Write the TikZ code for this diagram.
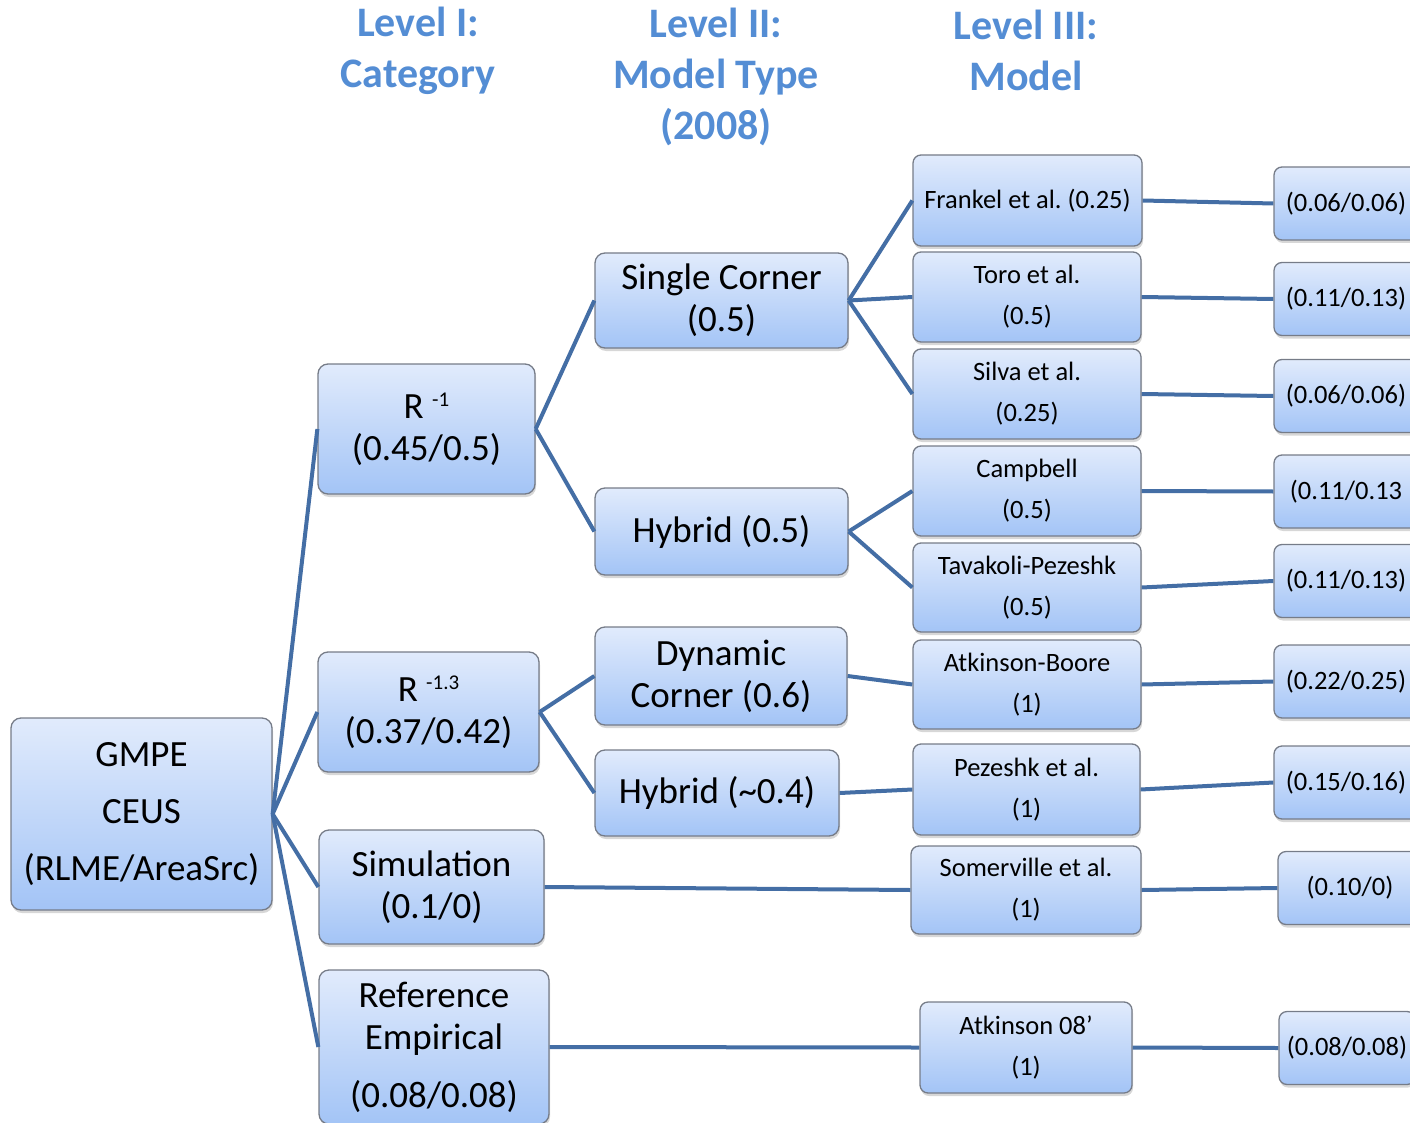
\documentclass[tikz,border=0pt]{standalone}
\usepackage{fontspec}
\setmainfont{Carlito}
\frenchspacing
\usepackage{xcolor}
\definecolor{boxtop}{RGB}{225,235,252}
\definecolor{boxbot}{RGB}{163,196,246}
\definecolor{boxline}{RGB}{118,124,136}
\definecolor{linkblue}{RGB}{68,110,165}
\definecolor{headblue}{RGB}{84,141,212}
\usepackage{tikz}
\usetikzlibrary{shadows}
\tikzstyle{gbox} = [rectangle,rounded corners=10pt,draw=boxline,line width=1.3pt,top color=boxtop,bottom color=boxbot,drop shadow={shadow xshift=1pt,shadow yshift=-3pt,fill=black!45,opacity=0.35},align=center,inner sep=0pt,font=\fontsize{37}{42}\selectfont]
\tikzstyle{mbox} = [gbox,rounded corners=8pt,font=\fontsize{26.5}{41}\selectfont]
\tikzstyle{wbox} = [mbox,minimum width=144pt,minimum height=73pt]
\tikzstyle{head} = [font=\fontsize{42}{51}\selectfont\bfseries,text=headblue,align=center]
\tikzstyle{link} = [draw=linkblue,line width=4pt]

\begin{document}
\begin{tikzpicture}[x=1pt,y=-1pt]
    \path[use as bounding box] (0,0) rectangle (1410,1123);
    \clip (0,0) rectangle (1410,1123);

      % column headings
      \node[head] (lvone)   at (418,51)  {Level I:\\Category};
      \node[head] (lvtwo)   at (716,77)  {Level II:\\Model Type\\(2008)};
      \node[head] (lvthree) at (1026,50) {Level III:\\Model};

      % root and level I
      \node[gbox,minimum width=261pt,minimum height=192pt,font=\fontsize{37}{57}\selectfont] (gmpe) at (141.5,814) {GMPE\\CEUS\\(RLME/AreaSrc)};
      \node[gbox,minimum width=217pt,minimum height=130pt] (rone)  at (426.5,429) {R \raisebox{12pt}{\fontsize{21}{21}\selectfont -1}\\(0.45/0.5)};
      \node[gbox,minimum width=221pt,minimum height=120pt] (rthir) at (428.5,712) {R \raisebox{12pt}{\fontsize{21}{21}\selectfont -1.3}\\(0.37/0.42)};
      \node[gbox,minimum width=225pt,minimum height=114pt] (sim)   at (431.5,887) {Simulation\\(0.1/0)};
      \node[gbox,minimum width=230pt,minimum height=154pt] (ref)   at (434,1047)  {Reference\\Empirical\\[16pt](0.08/0.08)};

      % level II
      \node[gbox,minimum width=253pt,minimum height=95pt] (single) at (721.5,300.5) {Single Corner\\(0.5)};
      \node[gbox,minimum width=253pt,minimum height=87pt] (hybone) at (721.5,531.5) {Hybrid (0.5)};
      \node[gbox,minimum width=252pt,minimum height=98pt] (dyn)    at (721,676)     {Dynamic\\Corner (0.6)};
      \node[gbox,minimum width=244pt,minimum height=86pt] (hybtwo) at (717,793)     {Hybrid (\char`\~0.4)};

      % level III
      \node[mbox,minimum width=229pt,minimum height=91pt] (frankel)  at (1027.5,200.5) {Frankel et al. (0.25)};
      \node[mbox,minimum width=228pt,minimum height=90pt] (toro)     at (1027,297)     {Toro et al.\\(0.5)};
      \node[mbox,minimum width=228pt,minimum height=90pt] (silva)    at (1027,394)     {Silva et al.\\(0.25)};
      \node[mbox,minimum width=228pt,minimum height=90pt] (campbell) at (1027,491)     {Campbell\\(0.5)};
      \node[mbox,minimum width=228pt,minimum height=89pt] (tavakoli) at (1027,587.5)   {Tavakoli-Pezeshk\\(0.5)};
      \node[mbox,minimum width=228pt,minimum height=89pt] (atkboore) at (1027,684.5)   {Atkinson-Boore\\(1)};
      \node[mbox,minimum width=227pt,minimum height=91pt] (pezeshk)  at (1026.5,789.5) {Pezeshk et al.\\(1)};
      \node[mbox,minimum width=230pt,minimum height=88pt] (somer)    at (1026,890)     {Somerville et al.\\(1)};
      \node[mbox,minimum width=212pt,minimum height=91pt] (atkeight) at (1026,1047.5)  {Atkinson 08’\\(1)};

      % weights
      \node[wbox] (w1) at (1346,203.5) {(0.06/0.06)};
      \node[wbox] (w2) at (1346,299)   {(0.11/0.13)};
      \node[wbox] (w3) at (1346,396)   {(0.06/0.06)};
      \node[wbox] (w4) at (1346,491.5) {(0.11/0.13};
      \node[wbox] (w5) at (1346,581)   {(0.11/0.13)};
      \node[wbox] (w6) at (1346,681.5) {(0.22/0.25)};
      \node[wbox] (w7) at (1346,782.5) {(0.15/0.16)};
      \node[wbox] (w8) at (1350,888)   {(0.10/0)};
      \node[wbox,minimum width=136pt] (w9) at (1347,1048) {(0.08/0.08)};

      \path[link]
        \foreach \a/\b in {gmpe/rone,gmpe/rthir,gmpe/sim,gmpe/ref,
                           rone/single,rone/hybone,rthir/dyn,rthir/hybtwo,
                           single/frankel,single/toro,single/silva,
                           hybone/campbell,hybone/tavakoli,
                           dyn/atkboore,hybtwo/pezeshk,sim/somer,ref/atkeight,
                           frankel/w1,toro/w2,silva/w3,campbell/w4,tavakoli/w5,
                           atkboore/w6,pezeshk/w7,somer/w8,atkeight/w9} {
          (\a.east) edge (\b.west)
        } ;
    \end{tikzpicture}
\end{document}
